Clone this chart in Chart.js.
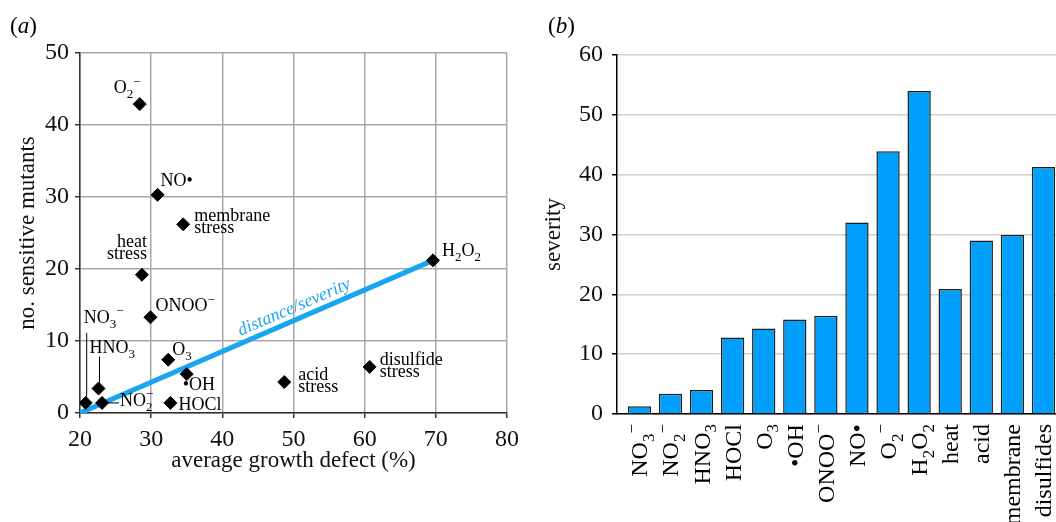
<!DOCTYPE html>
<html>
<head>
<meta charset="utf-8">
<script src="https://cdn.jsdelivr.net/npm/chart.js@4.4.1/dist/chart.umd.min.js"></script>
<style>
html, body { margin: 0; padding: 0; background: #fff; overflow: hidden; width: 1056px; height: 522px; }
.panel { position: absolute; top: 0; height: 522px; }
#boxA { left: 0; width: 535px; }
#boxB { left: 540px; width: 522px; }
.tag { position: absolute; top: 14px; font: 23px "Liberation Serif", serif; line-height: 23px; color: #000; }
</style>
</head>
<body>
<div id="boxA" class="panel"><canvas id="chartA"></canvas></div>
<div id="boxB" class="panel"><canvas id="chartB"></canvas></div>
<div class="tag" style="left:10px">(<i>a</i>)</div>
<div class="tag" style="left:548px">(<i>b</i>)</div>
<script>
const SERIF = '"Liberation Serif", "Times New Roman", serif';

// (a) growth defect vs. number of sensitive mutants
// "_x" = subscript, "^x" = superscript, "\n" = new line
const stressNames = ['NO_3^−', 'HNO_3', 'NO_2^−', 'O_3', '•OH', 'HOCl', 'ONOO^−', 'heat\nstress',
  'membrane\nstress', 'NO•', 'O_2^−', 'H_2O_2', 'acid\nstress', 'disulfide\nstress'];
const growthDefect = [20.8, 22.6, 23.1, 32.4, 35.0, 32.7, 29.9, 28.7, 34.5, 30.9, 28.4, 69.6, 48.7, 60.7];
const sensitiveMutants = [1.4, 3.4, 1.4, 7.4, 5.4, 1.4, 13.3, 19.2, 26.2, 30.3, 42.9, 21.2, 4.3, 6.4];
const trendX = [20, 69.6];
const trendY = [0, 21.2];
const xTicksA = [20, 30, 40, 50, 60, 70, 80];
const yTicksA = [0, 10, 20, 30, 40, 50];

// (b) severity per stress
const severityNames = ['NO_3^−', 'NO_2^−', 'HNO_3', 'HOCl', 'O_3', '•OH', 'ONOO^−', 'NO•', 'O_2^−',
  'H_2O_2', 'heat', 'acid', 'membrane', 'disulfides'];
const severity = [1.3, 3.4, 4.0, 12.8, 14.3, 15.8, 16.4, 32.0, 43.9, 54.0, 20.9, 29.0, 29.9, 41.3];
const yTicksB = [0, 10, 20, 30, 40, 50, 60];

const lineBlue = '#19a5f0';
const barBlue = '#00a0fa';

// where each point label sits relative to its marker (px)
const labelPos = [
  { dx: -2, dy: -80, leadV: [-70, -6] },
  { dx: -9, dy: -36, leadV: [-32, -6] },
  { dx: 18, dy: 3, stack: true, leadH: [6, 17] },
  { dx: 4, dy: -5 },
  { dx: -4, dy: 16 },
  { dx: 8, dy: 7 },
  { dx: 5, dy: -6 },
  { dx: 5, dy: -28, align: 'right' },
  { dx: 11, dy: -3 },
  { dx: 3, dy: -9 },
  { dx: -26, dy: -11 },
  { dx: 9, dy: -4 },
  { dx: 14, dy: -2 },
  { dx: 10, dy: -2 }
];

function parseRich(text) {
  const segs = [];
  for (let i = 0; i < text.length; i++) {
    const c = text[i];
    if (c === '_' || c === '^') {
      segs.push({ t: text[i + 1], k: c === '_' ? 'sub' : 'sup' });
      i++;
    } else if (segs.length && segs[segs.length - 1].k === 'n') {
      segs[segs.length - 1].t += c;
    } else {
      segs.push({ t: c, k: 'n' });
    }
  }
  return segs;
}

// draws text with sub/superscripts, y is the baseline
function drawRich(ctx, text, x, y, size, align, stack) {
  const parts = parseRich(text).map(s => {
    const fs = s.k === 'n' ? size : Math.round(size * 0.72);
    ctx.font = fs + 'px ' + SERIF;
    return { t: s.t, k: s.k, fs: fs, w: ctx.measureText(s.t).width };
  });
  let cx = 0, lastSub = null;
  parts.forEach(p => {
    if (stack && p.k === 'sup' && lastSub !== null) {
      p.x = lastSub;
      cx = Math.max(cx, lastSub + p.w);
    } else {
      p.x = cx;
      cx += p.w;
    }
    lastSub = p.k === 'sub' ? p.x : null;
  });
  const x0 = align === 'right' ? x - cx : (align === 'center' ? x - cx / 2 : x);
  ctx.textAlign = 'left';
  ctx.textBaseline = 'alphabetic';
  parts.forEach(p => {
    ctx.font = p.fs + 'px ' + SERIF;
    const oy = p.k === 'sub' ? size * 0.28 : (p.k === 'sup' ? -size * 0.42 : 0);
    ctx.fillText(p.t, x0 + p.x, y + oy);
  });
}

const pointLabels = {
  id: 'pointLabels',
  afterDatasetsDraw(chart) {
    const ctx = chart.ctx;
    const pts = chart.getDatasetMeta(0).data;
    ctx.save();
    ctx.fillStyle = '#000';
    ctx.strokeStyle = '#000';
    ctx.lineWidth = 1;
    stressNames.forEach((name, i) => {
      const p = pts[i], l = labelPos[i];
      name.split('\n').forEach((line, j) => {
        drawRich(ctx, line, p.x + l.dx, p.y + l.dy + j * 12, 18, l.align || 'left', l.stack);
      });
      if (l.leadV) {
        ctx.beginPath();
        ctx.moveTo(p.x + 1, p.y + l.leadV[0]);
        ctx.lineTo(p.x + 1, p.y + l.leadV[1]);
        ctx.stroke();
      }
      if (l.leadH) {
        ctx.beginPath();
        ctx.moveTo(p.x + l.leadH[0], p.y);
        ctx.lineTo(p.x + l.leadH[1], p.y);
        ctx.stroke();
      }
    });
    // label along the trend line
    const xs = chart.scales.x, ys = chart.scales.y;
    const x1 = xs.getPixelForValue(trendX[0]), y1 = ys.getPixelForValue(trendY[0]);
    const x2 = xs.getPixelForValue(trendX[1]), y2 = ys.getPixelForValue(trendY[1]);
    ctx.translate(x1 + (x2 - x1) * 0.62, y1 + (y2 - y1) * 0.62);
    ctx.rotate(Math.atan2(y2 - y1, x2 - x1));
    ctx.font = 'italic 18px ' + SERIF;
    ctx.fillStyle = lineBlue;
    ctx.textAlign = 'center';
    ctx.textBaseline = 'alphabetic';
    ctx.fillText('distance/severity', 0, -7);
    ctx.restore();
  }
};

const barLabels = {
  id: 'barLabels',
  afterDraw(chart) {
    const ctx = chart.ctx, xs = chart.scales.x;
    ctx.save();
    ctx.fillStyle = '#000';
    severityNames.forEach((name, i) => {
      ctx.save();
      ctx.translate(xs.getPixelForValue(i) + 8, xs.top + 10);
      ctx.rotate(-Math.PI / 2);
      drawRich(ctx, name, 0, 0, 24, 'right');
      ctx.restore();
    });
    ctx.restore();
  }
};

Chart.defaults.font.family = SERIF;
Chart.defaults.color = '#111';

new Chart(document.getElementById('chartA'), {
  type: 'scatter',
  data: {
    datasets: [{
      data: growthDefect.map((g, i) => ({ x: g, y: sensitiveMutants[i] })),
      pointStyle: 'rectRot',
      pointRadius: 6.5,
      backgroundColor: '#000',
      borderColor: '#000',
      borderWidth: 1,
      order: 1
    }, {
      type: 'line',
      data: trendX.map((x, i) => ({ x: x, y: trendY[i] })),
      borderColor: lineBlue,
      borderWidth: 5,
      pointRadius: 0,
      fill: false,
      order: 2
    }]
  },
  options: {
    responsive: true,
    maintainAspectRatio: false,
    devicePixelRatio: 1,
    animation: false,
    events: [],
    layout: { padding: { top: 53, right: 28, left: 0, bottom: 0 } },
    plugins: { legend: { display: false }, tooltip: { enabled: false } },
    scales: {
      x: {
        type: 'linear',
        min: 20,
        max: 80,
        afterBuildTicks: s => { s.ticks = xTicksA.map(v => ({ value: v })); },
        afterFit: s => { s.height = 109; },
        grid: { color: '#a8a8a8', lineWidth: 1.5, tickColor: '#333', tickLength: 5 },
        border: { color: '#333', width: 1.5 },
        ticks: { font: { size: 24 }, padding: 7, maxRotation: 0 },
        title: { display: true, text: 'average growth defect (%)', font: { size: 23 }, color: '#111', padding: { top: 0, bottom: 47 } }
      },
      y: {
        min: 0,
        max: 50,
        afterBuildTicks: s => { s.ticks = yTicksA.map(v => ({ value: v })); },
        afterFit: s => { s.width = 80; },
        grid: { color: '#a8a8a8', lineWidth: 1.5, tickColor: '#333', tickLength: 5 },
        border: { color: '#333', width: 1.5 },
        ticks: { font: { size: 24 }, padding: 6 },
        title: { display: true, text: 'no. sensitive mutants', font: { size: 23 }, color: '#111', padding: { top: 14, bottom: 0 } }
      }
    }
  },
  plugins: [pointLabels]
});

new Chart(document.getElementById('chartB'), {
  type: 'bar',
  data: {
    datasets: [{
      data: severity.map((v, i) => ({ x: i, y: v })),
      backgroundColor: barBlue,
      borderColor: '#1e1e1e',
      borderWidth: 1.5,
      categoryPercentage: 1,
      barPercentage: 0.75
    }]
  },
  options: {
    responsive: true,
    maintainAspectRatio: false,
    devicePixelRatio: 1,
    animation: false,
    events: [],
    layout: { padding: { top: 55, right: 3, left: 0, bottom: 0 } },
    plugins: { legend: { display: false }, tooltip: { enabled: false } },
    scales: {
      x: {
        type: 'linear',
        offset: false,
        min: -0.72,
        max: 13.5,
        afterFit: s => { s.height = 108; },
        grid: { display: false, offset: false },
        border: { color: '#000', width: 1.5 },
        ticks: { display: false }
      },
      y: {
        min: 0,
        max: 60,
        afterBuildTicks: s => { s.ticks = yTicksB.map(v => ({ value: v })); },
        afterFit: s => { s.width = 77; },
        grid: { color: '#d0d0d0', lineWidth: 1.5, tickColor: '#000', tickLength: 5 },
        border: { color: '#000', width: 1.5 },
        ticks: { font: { size: 24 }, padding: 9 },
        title: { display: true, text: 'severity', font: { size: 23 }, color: '#111', padding: { top: 0, bottom: 0 } }
      }
    }
  },
  plugins: [barLabels]
});
</script>
</body>
</html>
